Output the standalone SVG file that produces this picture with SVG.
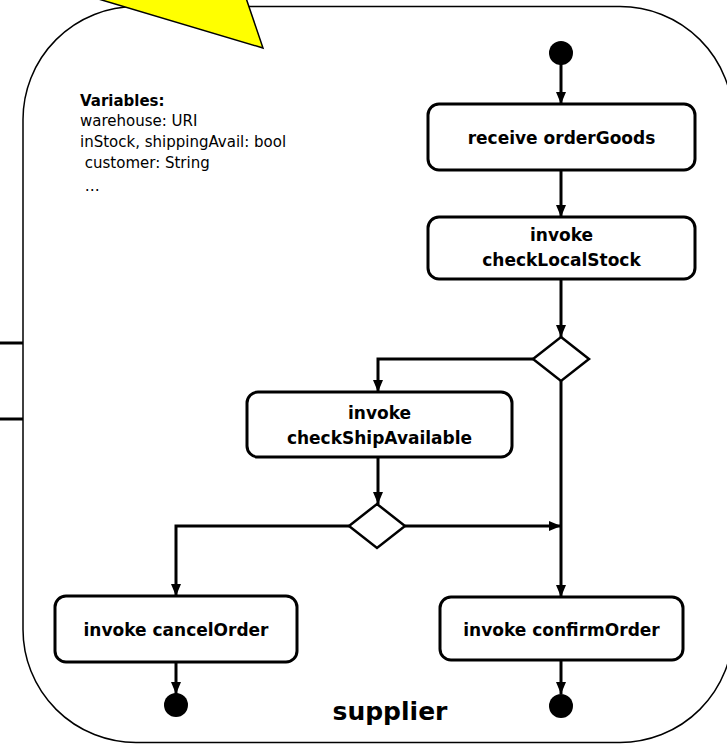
<svg xmlns="http://www.w3.org/2000/svg" width="727" height="745" viewBox="0 0 727 745">
  <style>
    .frame { fill: #ffffff; stroke: #000000; stroke-width: 1.5; }
    .act { fill: #ffffff; stroke: #000000; stroke-width: 3; }
    .dec { fill: #ffffff; stroke: #000000; stroke-width: 2.5; }
    .dot { fill: #000000; }
    .flow { fill: none; stroke: #000000; stroke-width: 3; }
    .lbl { font-family: "DejaVu Sans", "Liberation Sans", sans-serif; font-size: 17px; font-weight: bold; fill: #000000; text-anchor: middle; }
    .vars { font-family: "DejaVu Sans", "Liberation Sans", sans-serif; font-size: 15px; fill: #000000; }
    .title { font-family: "DejaVu Sans", "Liberation Sans", sans-serif; font-size: 25px; font-weight: bold; fill: #000000; text-anchor: middle; }
  </style>
  <defs>
    <marker id="arrow" markerUnits="userSpaceOnUse" markerWidth="12" markerHeight="12" viewBox="0 0 12 12" refX="12" refY="6" orient="auto">
      <path d="M0,1 L12,6 L0,11 Z" fill="#000000"/>
    </marker>
  </defs>
  <rect width="727" height="745" fill="#ffffff"/>

  <!-- stubs entering the process frame from the left -->
  <g id="side-links">
    <line x1="0" y1="343" x2="23" y2="343" stroke="#000" stroke-width="3"/>
    <line x1="0" y1="419" x2="23" y2="419" stroke="#000" stroke-width="3"/>
  </g>

  <!-- process frame -->
  <g id="supplier">
    <rect class="frame" x="23" y="6.5" width="710" height="736" rx="113" ry="113"/>
    <text class="title" x="390" y="720">supplier</text>
  </g>

  <!-- callout pointer -->
  <g id="callout">
    <polygon points="95,-2 263,48 246,-2" fill="#ffff00" stroke="#000000" stroke-width="1.5"/>
  </g>

  <!-- variable declarations -->
  <g id="variables">
    <text class="vars" x="80" y="106" font-weight="bold">Variables:</text>
    <text class="vars" x="80" y="126">warehouse: URI</text>
    <text class="vars" x="80" y="147">inStock, shippingAvail: bool</text>
    <text class="vars" x="80" y="168" xml:space="preserve"> customer: String</text>
    <text class="vars" x="80" y="191" xml:space="preserve"> …</text>
  </g>

  <!-- connectors -->
  <g id="connectors">
    <line class="flow" x1="561" y1="64" x2="561" y2="104" marker-end="url(#arrow)"/>
    <line class="flow" x1="561" y1="170" x2="561" y2="217" marker-end="url(#arrow)"/>
    <line class="flow" x1="561" y1="279" x2="561" y2="337" marker-end="url(#arrow)"/>
    <polyline class="flow" points="533,359 378,359 378,392" marker-end="url(#arrow)"/>
    <line class="flow" x1="378" y1="457" x2="378" y2="504" marker-end="url(#arrow)"/>
    <line class="flow" x1="405" y1="526" x2="561" y2="526" marker-end="url(#arrow)"/>
    <polyline class="flow" points="349,526 176,526 176,596" marker-end="url(#arrow)"/>
    <line class="flow" x1="561" y1="381" x2="561" y2="597" marker-end="url(#arrow)"/>
    <line class="flow" x1="176" y1="662" x2="176" y2="694" marker-end="url(#arrow)"/>
    <line class="flow" x1="561" y1="660" x2="561" y2="694" marker-end="url(#arrow)"/>
  </g>

  <!-- nodes -->
  <g id="start">
    <circle class="dot" cx="561" cy="53" r="12"/>
  </g>
  <g id="receiveOrderGoods">
    <rect class="act" x="428" y="104" width="267" height="66" rx="11"/>
    <text class="lbl" x="561.5" y="144">receive orderGoods</text>
  </g>
  <g id="checkLocalStock">
    <rect class="act" x="428" y="217" width="267" height="62" rx="11"/>
    <text class="lbl" x="561.5" y="241">invoke</text>
    <text class="lbl" x="561.5" y="266">checkLocalStock</text>
  </g>
  <g id="stockDecision">
    <polygon class="dec" points="561,337 589,359 561,381 533,359"/>
  </g>
  <g id="checkShipAvailable">
    <rect class="act" x="247" y="392" width="265" height="65" rx="11"/>
    <text class="lbl" x="379.5" y="419">invoke</text>
    <text class="lbl" x="379.5" y="444">checkShipAvailable</text>
  </g>
  <g id="shipDecision">
    <polygon class="dec" points="377,504 405,526 377,548 349,526"/>
  </g>
  <g id="cancelOrder">
    <rect class="act" x="55" y="596" width="242" height="66" rx="11"/>
    <text class="lbl" x="176" y="636">invoke cancelOrder</text>
  </g>
  <g id="confirmOrder">
    <rect class="act" x="440" y="597" width="243" height="63" rx="11"/>
    <text class="lbl" x="561.5" y="636">invoke confirmOrder</text>
  </g>
  <g id="endCancel">
    <circle class="dot" cx="176" cy="705" r="12"/>
  </g>
  <g id="endConfirm">
    <circle class="dot" cx="561" cy="706" r="12"/>
  </g>
</svg>
